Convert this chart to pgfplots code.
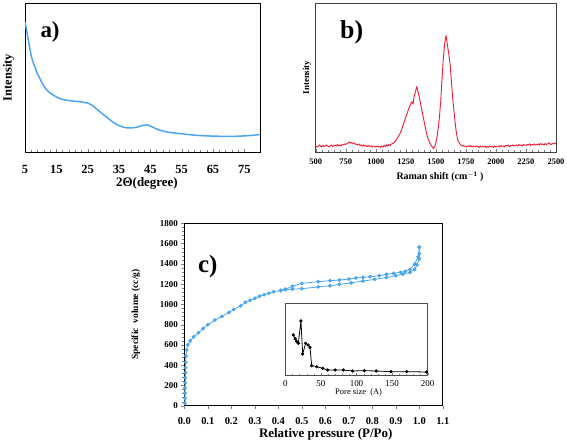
\documentclass[border=0pt]{standalone}
\usepackage{pgfplots}
\pgfplotsset{compat=1.18}
\usepackage{fontspec}
\setmainfont{Liberation Serif}
\definecolor{cblue}{RGB}{75,165,240}
\definecolor{cred}{RGB}{240,25,50}
\pgfplotsset{textticks/.style={
  xticklabel={\pgfmathprintnumber[assume math mode=true]{\tick}},
  yticklabel={\pgfmathprintnumber[assume math mode=true]{\tick}}}}
\begin{document}
\begin{tikzpicture}
\useasboundingbox (0bp,0bp) rectangle (567bp,440bp);
% ---------- a) ----------
\begin{axis}[at={(25bp,288bp)},anchor=south west,scale only axis,width=235bp,height=149bp,
  xmin=5,xmax=80,ymin=0,ymax=149,textticks,
  xtick={5,15,...,75},minor x tick num=4,xtick pos=bottom,ytick=\empty,
  major tick length=3pt,minor tick length=2pt,tick align=inside,
  xticklabel style={font=\bfseries\fontsize{12.5}{12.5}\selectfont,yshift=-10bp},
  xlabel={2\symbol{"0398}(degree)},
  xlabel style={font=\bfseries\fontsize{13}{13}\selectfont,at={(axis description cs:0.519,-0.21)},anchor=center},
  ylabel={Intensity},
  ylabel style={font=\bfseries\fontsize{12.5}{12.5}\selectfont,at={(axis description cs:-0.07,0.5)},anchor=center},
  axis line style={line width=0.8pt}]
\addplot[cblue,line width=1.5pt,smooth] coordinates {
(5,130)(5.5,122)(6,113)(7,96)(8,86)(9,78)(10,72)(11,66)(12,62)(13,59)(14,57)(15,55)
(16,53.5)(17,52.5)(18,52)(20,51)(22,50.5)(24,49.5)(25,49)(26,47.5)(27,45.5)(28,42.5)
(29,40)(30,37.5)(31,35)(32,32.5)(33,30)(34,28)(35,26.5)(36,25.2)(37,24.4)(38,24)(39,24)
(40,24.4)(41,25)(42,26)(43,26.8)(44,27.2)(45,26)(46,24.5)(47,23)(48,21.8)(50,20.2)
(52,19.2)(55,18.2)(58,17.2)(60,16.6)(63,16.1)(66,15.8)(70,15.6)(73,15.8)(76,16.3)(78,16.8)(80,17.5)};
\node[font=\bfseries\fontsize{23}{23}\selectfont] at (axis cs:13,120) {a)};
\end{axis}
% ---------- b) ----------
\begin{axis}[at={(315.7bp,288bp)},anchor=south west,scale only axis,width=240.3bp,height=149bp,
  xmin=500,xmax=2500,ymin=0,ymax=149,textticks,
  xtick={500,750,...,2500},minor x tick num=4,xtick pos=bottom,ytick=\empty,
  major tick length=3pt,minor tick length=2pt,tick align=inside,
  /pgf/number format/1000 sep={},
  xticklabel style={font=\bfseries\fontsize{8.5}{8.5}\selectfont,yshift=-3.5bp},
  xlabel={Raman shift (cm$^{\mathbf{-1}}$ )},
  xlabel style={font=\bfseries\fontsize{10}{10}\selectfont,at={(axis description cs:0.517,-0.167)},anchor=center},
  ylabel={Intensity},
  ylabel style={font=\bfseries\fontsize{9}{9}\selectfont,at={(axis description cs:-0.036,0.5)},anchor=center},
  axis line style={line width=0.7pt,black!75}]
\addplot[cred,line width=0.9pt] coordinates {
(500,6)(510,5)(520,5.5)(530,7)(540,6)(550,5)(560,6.5)(570,5.5)(580,6)(590,7)(600,6)(610,5)(620,6)(630,7)(640,5.5)
(650,6.5)(660,7)(670,6)(680,7.5)(690,6.5)(700,7)(710,6)(720,7.5)(730,7)(740,8)(750,7.5)(760,8.5)(770,9)(780,10)
(790,9)(800,9.5)(810,8.5)(820,9)(830,8)(840,7.5)(850,7)(860,8)(870,6.5)(880,7)(890,6)(900,7)(910,6)(920,6.5)
(930,5.5)(940,6.5)(950,5.5)(960,6)(970,5)(980,6)(990,5.5)(1000,5)(1010,6)(1020,5)(1030,5.5)(1040,4.5)(1050,6)
(1060,5)(1070,6.5)(1080,5.5)(1090,7)(1100,6)(1110,7.5)(1120,6.5)(1130,8)(1140,8.5)(1150,9)(1160,10.5)(1170,12)
(1180,14)(1190,16)(1200,18)(1210,21)(1220,24)(1230,28)(1240,31)(1250,35)(1260,38)(1270,42)(1280,45)(1290,48)
(1300,50)(1310,48)(1320,56)(1330,60)(1340,65)(1345,64)(1350,61)(1360,56)(1370,50)(1380,44)(1390,38)(1400,32)
(1410,26)(1420,20)(1430,15)(1440,12)(1450,9)(1460,7)(1470,5)(1480,3.5)(1490,5)(1500,9)(1510,15)(1520,24)(1530,35)
(1540,50)(1550,70)(1560,90)(1570,104)(1575,110)(1580,114)(1585,116)(1590,112)(1595,108)(1600,104)(1605,100)
(1610,96)(1620,86)(1630,70)(1640,54)(1650,42)(1660,30)(1670,20)(1680,13)(1690,10)(1700,8)(1710,7)(1720,6)
(1730,6.5)(1740,5.5)(1750,6)(1760,5)(1770,6)(1780,5.5)(1790,6.5)(1800,5)(1810,6)(1820,5.5)(1830,5)(1840,6)
(1850,5.5)(1860,4.5)(1870,6)(1880,5)(1890,5.5)(1900,5)(1910,6)(1920,4.5)(1930,5.5)(1940,5)(1950,6)(1960,5)
(1970,5.5)(1980,4.5)(1990,6)(2000,5)(2010,5.5)(2020,6)(2030,5)(2040,6.5)(2050,5.5)(2060,6)(2070,5)(2080,6.5)
(2090,6)(2100,7)(2110,5.5)(2120,6.5)(2130,6)(2140,7)(2150,6)(2160,6.5)(2170,7)(2180,6)(2190,7.5)(2200,6.5)
(2210,7)(2220,6)(2230,7.5)(2240,7)(2250,6.5)(2260,7.5)(2270,7)(2280,8)(2290,6.5)(2300,7.5)(2310,7)(2320,8)
(2330,7)(2340,7.5)(2350,8)(2360,7)(2370,8.5)(2380,7.5)(2390,8)(2400,7)(2410,8.5)(2420,7.5)(2430,8)(2440,9)
(2450,8)(2460,7.5)(2470,8.5)(2480,8)(2490,9)(2500,8)};
\node[font=\bfseries\fontsize{26}{26}\selectfont] at (axis cs:800,120) {b)};
\end{axis}
% ---------- c) ----------
\begin{axis}[at={(184.3bp,34.3bp)},anchor=south west,scale only axis,width=258.5bp,height=182.4bp,
  xmin=0,xmax=1.1,ymin=0,ymax=1800,textticks,
  xtick={0,0.1,...,1.1},ytick={0,200,...,1800},minor y tick num=4,
  xtick pos=bottom,ytick pos=left,tick align=outside,
  major tick length=3pt,minor tick length=2pt,
  /pgf/number format/1000 sep={},
  xticklabel style={font=\bfseries\fontsize{10.5}{10.5}\selectfont,yshift=-5bp,/pgf/number format/fixed,/pgf/number format/fixed zerofill,/pgf/number format/precision=1},
  yticklabel style={font=\bfseries\fontsize{9}{9}\selectfont},
  xlabel={Relative pressure (P/Po)},
  xlabel style={font=\bfseries\fontsize{13}{13}\selectfont,at={(axis description cs:0.547,-0.155)},anchor=center},
  ylabel={Specific\ \ volume (cc/g)},
  ylabel style={font=\bfseries\fontsize{9.5}{9.5}\selectfont,at={(axis description cs:-0.187,0.5)},anchor=center},
  axis line style={line width=0.7pt}]
\addplot[cblue,line width=0.8pt,mark=*,mark size=1.5pt] coordinates {
(0.003,25)(0.003,75)(0.003,125)(0.003,175)(0.004,225)(0.004,275)(0.005,325)(0.005,375)(0.006,430)(0.007,490)
(0.010,550)(0.015,600)(0.025,640)(0.04,680)(0.06,720)(0.08,760)(0.10,800)(0.13,845)(0.16,880)(0.19,920)
(0.21,950)(0.24,985)(0.26,1020)(0.28,1040)(0.30,1060)(0.32,1080)(0.34,1095)(0.36,1110)(0.38,1125)(0.41,1135)
(0.43,1145)(0.46,1150)(0.50,1155)(0.57,1172)(0.62,1184)(0.66,1197)(0.71,1212)(0.76,1230)(0.81,1247)(0.86,1265)
(0.90,1283)(0.93,1298)(0.96,1315)(0.98,1345)(0.99,1390)(1.00,1450)(1.00,1500)(1.00,1565)};
\addplot[cblue,line width=0.8pt,mark=*,mark size=1.5pt] coordinates {
(1.00,1565)(0.995,1470)(0.98,1395)(0.96,1345)(0.94,1325)(0.92,1316)(0.89,1306)(0.86,1296)(0.83,1283)(0.79,1273)
(0.76,1267)(0.73,1260)(0.70,1250)(0.66,1240)(0.62,1234)(0.57,1224)(0.50,1207)(0.46,1178)(0.43,1150)(0.41,1138)};
\node[font=\bfseries\fontsize{25}{25}\selectfont] at (axis cs:0.1,1370) {c)};
\end{axis}
% ---------- inset ----------
\begin{axis}[at={(285.3bp,65bp)},anchor=south west,scale only axis,width=142.4bp,height=71.7bp,
  xmin=0,xmax=200,ymin=0,ymax=215,textticks,
  xtick={0,50,...,200},minor x tick num=4,xtick pos=bottom,ytick=\empty,
  major tick length=2.5pt,minor tick length=1.5pt,tick align=inside,
  xticklabel style={font=\fontsize{9}{9}\selectfont,yshift=-2bp},
  xlabel={Pore size\ \ (A)},
  xlabel style={font=\fontsize{8.5}{8.5}\selectfont,at={(axis description cs:0.515,-0.25)},anchor=center},
  axis line style={line width=0.6pt,black!70},axis background/.style={fill=white}]
\addplot[black,line width=0.8pt,mark=*,mark size=1.2pt] coordinates {
(11.2,120)(14,108)(16,100)(18.3,95)(22,162)(24.4,63)(28.6,95)(32,90)(34.7,83)(37,28)(44,25)(52.5,20)(59.5,15)
(70,15)(81.5,15)(94.6,12)(111,13)(127.5,12)(148.5,10)(170.5,10)(198.6,9)};
\end{axis}
\end{tikzpicture}
\end{document}
